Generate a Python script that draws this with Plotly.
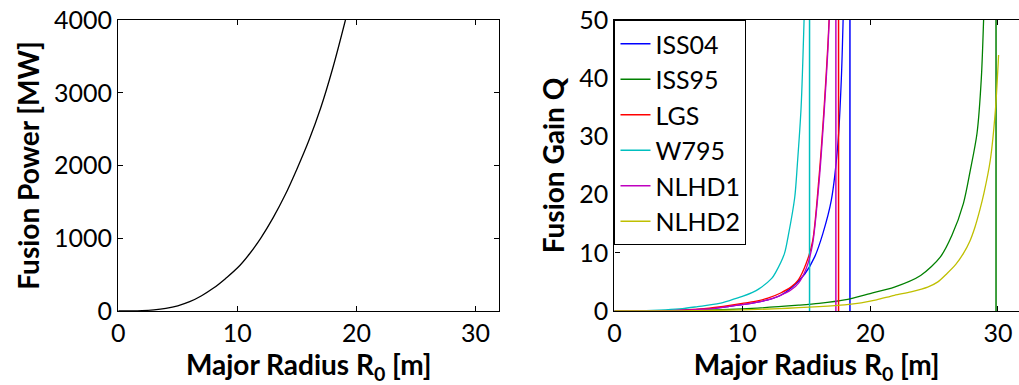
import plotly.graph_objects as go

# ---- Left panel: fusion power vs major radius ----
power_R = [0, 1, 2, 3, 4, 5, 6, 7, 8, 9, 10, 11, 12, 13, 14, 15, 16, 17, 18, 19.08]
power_P = [0, 1, 5, 16, 37, 72, 128, 210, 315, 445, 590, 780, 1010, 1280, 1590, 1950, 2340, 2790, 3330, 4000]

# ---- Right panel: fusion gain Q for each scaling law ----
iss04_R = [0, 3, 5, 7, 8, 9, 10, 11, 12, 13, 13.85, 14.9, 15.66, 16.3, 16.96, 17.48, 17.75, 17.92]
iss04_Q = [0, 0.03, 0.1, 0.3, 0.5, 0.8, 1.1, 1.45, 1.9, 2.7, 4.0, 6.4, 9.3, 13.3, 19.0, 28.8, 40, 53]

iss95_R = [0, 5, 10, 14.4, 16, 18, 20, 21.9, 23.95, 25.5, 26.4, 27.3, 27.84, 28.36, 28.7, 28.92]
iss95_Q = [0, 0.05, 0.35, 1.0, 1.3, 1.9, 3.0, 4.1, 6.1, 9.3, 13.0, 18.5, 24.2, 30.5, 40, 53]

lgs_R = [0, 3, 5, 7, 8, 9, 10, 11, 12, 13, 13.8, 14.4, 15.0, 15.5, 16.0, 16.4, 16.7, 16.9]
lgs_Q = [0, 0.05, 0.15, 0.4, 0.65, 0.95, 1.3, 1.65, 2.2, 3.1, 4.1, 5.4, 8.2, 12.0, 23, 35, 46, 55]

w795_R = [0, 2, 4, 5.3, 6.5, 8.2, 9, 10, 10.8, 11.3, 12.3, 12.6, 13.3, 13.6, 14.1, 14.3, 14.6, 14.87]
w795_Q = [0, 0.03, 0.2, 0.4, 0.75, 1.3, 1.8, 2.5, 3.2, 3.8, 5.6, 6.6, 9.9, 13, 19.5, 25, 35, 53]

nlhd1_R = [0, 3, 5, 7, 8, 9, 10, 11, 12, 13, 13.8, 14.4, 15.0, 15.5, 16.0, 16.4, 16.7, 16.9]
nlhd1_Q = [0, 0.03, 0.1, 0.3, 0.5, 0.8, 1.1, 1.45, 1.9, 2.7, 3.6, 4.8, 7.3, 11.5, 22, 34, 45, 55]

nlhd2_R = [0, 5, 10, 12.9, 14.4, 16, 18, 19.3, 20.5, 21.9, 23.2, 24.5, 25.3, 26.0, 26.7, 27.3, 27.8, 28.2, 28.6, 28.9, 29.4, 29.8, 30.05]
nlhd2_Q = [0, 0.02, 0.2, 0.41, 0.57, 0.75, 1.05, 1.4, 1.9, 2.7, 3.3, 4.1, 5.0, 6.4, 8.0, 9.9, 12.0, 14.4, 17.5, 20.2, 25.9, 34.5, 44]

# radius where each Q curve jumps from +inf to -inf (drawn as a vertical line)
asymptote_R = [18.42, 29.85, 17.53, 15.26, 17.32, None]

series_names = ["ISS04", "ISS95", "LGS", "W795", "NLHD1", "NLHD2"]
series_R = [iss04_R, iss95_R, lgs_R, w795_R, nlhd1_R, nlhd2_R]
series_Q = [iss04_Q, iss95_Q, lgs_Q, w795_Q, nlhd1_Q, nlhd2_Q]
series_colors = ["#0000FF", "#008000", "#FF0000", "#00BFBF", "#BF00BF", "#BFBF00"]

Q_RANGE = [0, 50]

FONT = "Lato"
W, H = 1019, 385

fig = go.Figure()

fig.add_trace(go.Scatter(x=power_R, y=power_P, mode="lines",
                         line=dict(color="black", width=1.3, shape="spline"),
                         xaxis="x", yaxis="y", showlegend=False))

for name, R, Q, a, c in zip(series_names, series_R, series_Q, asymptote_R, series_colors):
    fig.add_trace(go.Scatter(x=R, y=Q, mode="lines", name=name,
                             line=dict(color=c, width=1.3, shape="spline", smoothing=0.8),
                             xaxis="x2", yaxis="y2", legendgroup=name))
    if a is not None:
        fig.add_trace(go.Scatter(x=[a, a], y=[Q_RANGE[0] - 10, Q_RANGE[1] + 10], mode="lines",
                                 line=dict(color=c, width=1.5),
                                 xaxis="x2", yaxis="y2", legendgroup=name, showlegend=False,
                                 hoverinfo="skip"))

tickfont = dict(family=FONT, size=25, color="black")
titlefont = dict(family=FONT, size=28, color="black", weight="bold")

axis_common = dict(showgrid=False, zeroline=False, showline=True, linecolor="black",
                   linewidth=1.3, ticks="inside", ticklen=5, tickcolor="black",
                   tickfont=tickfont)

fig.update_layout(
    width=W, height=H,
    margin=dict(l=0, r=0, t=20, b=74),
    paper_bgcolor="white", plot_bgcolor="white",
    xaxis=dict(domain=[112 / W, 495.7 / W], range=[0, 32], tickvals=[0, 10, 20, 30],
               mirror="ticks", anchor="y",
               title=dict(text="Major Radius R<sub>0</sub> [m]", font=titlefont, standoff=2),
               **axis_common),
    yaxis=dict(domain=[0, 1], range=[0, 4000], tickvals=[0, 1000, 2000, 3000, 4000],
               mirror="ticks", anchor="x",
               title=dict(text="Fusion Power [MW]", font=titlefont, standoff=6),
               **axis_common),
    xaxis2=dict(domain=[611.7 / W, 1.0], range=[0, (W - 611.7) / 12.87], tickvals=[0, 10, 20, 30],
                mirror="ticks", anchor="y2",
                title=dict(text="Major Radius R<sub>0</sub> [m]", font=titlefont, standoff=2),
                **axis_common),
    yaxis2=dict(domain=[0, 1], range=Q_RANGE, tickvals=[0, 10, 20, 30, 40, 50],
                anchor="x2",
                title=dict(text="Fusion Gain Q", font=titlefont, standoff=6),
                **axis_common),
    legend=dict(x=611.7 / W, y=1, xanchor="left", yanchor="top",
                bgcolor="white", bordercolor="black", borderwidth=1,
                font=dict(family=FONT, size=25, color="black"),
                tracegroupgap=8, traceorder="normal"),
)

fig.write_html("out.html")
